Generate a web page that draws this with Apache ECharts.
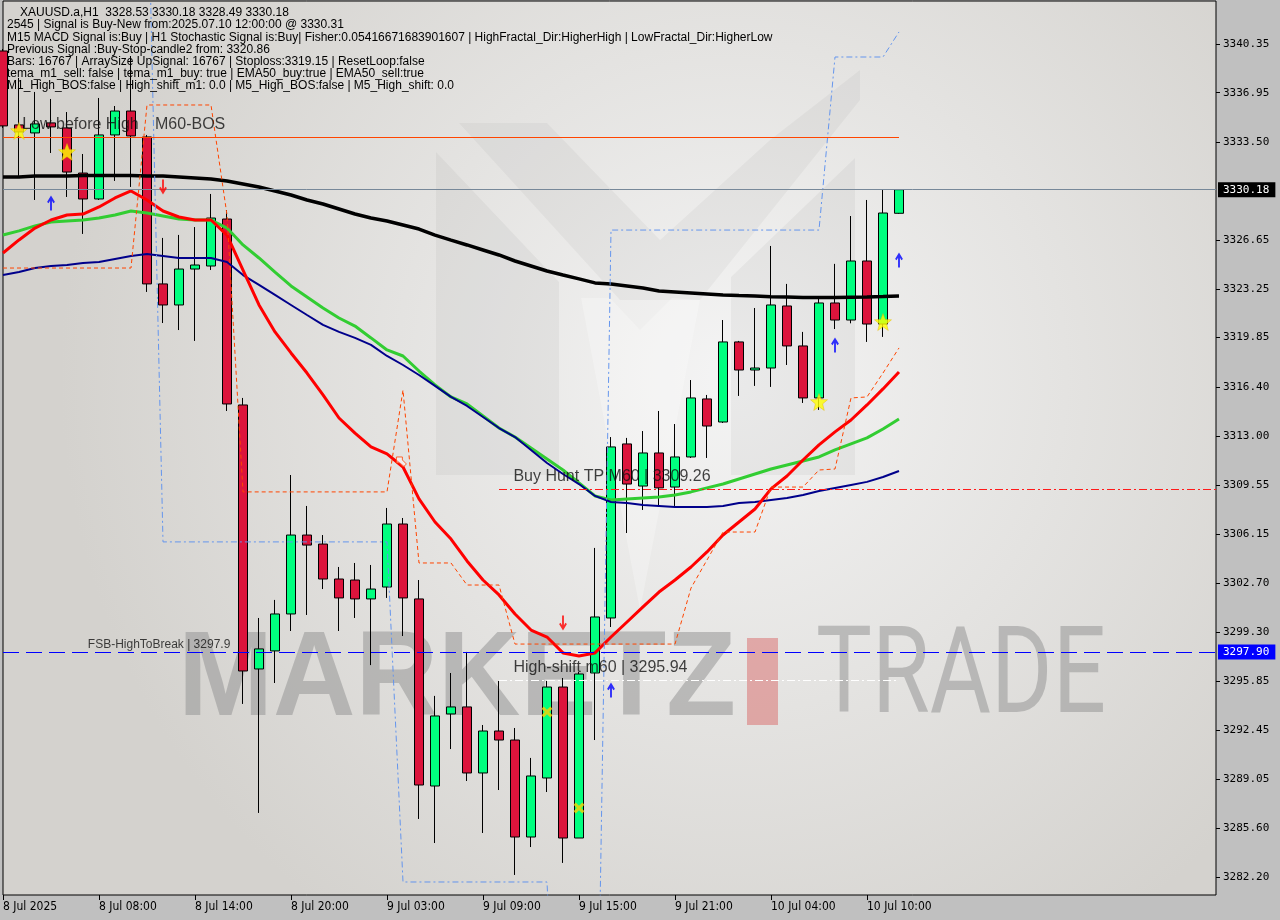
<!DOCTYPE html>
<html><head><meta charset="utf-8">
<script src="https://cdn.jsdelivr.net/npm/echarts@6/dist/echarts.min.js"></script>
<style>html,body{margin:0;padding:0;background:#c0c0c0}#c{width:1280px;height:920px}</style>
</head><body><div id="c"></div>
<script>
// ---------- DATA ----------
const xTickIdx = [0, 6, 12, 18, 24, 30, 36, 42, 48, 54];
const xTickLabels = ['8 Jul 2025','8 Jul 08:00','8 Jul 14:00','8 Jul 20:00','9 Jul 03:00','9 Jul 09:00','9 Jul 15:00','9 Jul 21:00','10 Jul 04:00','10 Jul 10:00'];
const yTickLabels = [3340.35,3336.95,3333.50,3326.65,3323.25,3319.85,3316.40,3313.00,3309.55,3306.15,3302.70,3299.30,3295.85,3292.45,3289.05,3285.60,3282.20];

const opens  = [3339.86,3334.70,3334.14,3334.84,3334.49,3331.34,3329.53,3334.00,3335.67,3333.86,3323.60,3322.13,3324.64,3324.85,3328.13,3315.15,3296.72,3297.98,3300.56,3306.07,3305.44,3303.00,3302.93,3301.61,3302.44,3306.84,3301.61,3288.55,3293.58,3294.07,3289.46,3292.39,3291.76,3284.99,3289.11,3295.46,3284.92,3296.44,3300.28,3312.43,3309.49,3311.80,3309.42,3311.52,3315.57,3313.96,3319.55,3317.59,3317.73,3322.06,3319.27,3315.64,3322.27,3321.08,3325.20,3320.80,3328.53];
const closes = [3334.63,3334.21,3334.77,3334.56,3331.41,3329.53,3334.00,3335.67,3333.93,3323.60,3322.13,3324.64,3324.92,3328.20,3315.22,3296.58,3298.12,3300.56,3306.07,3305.37,3303.00,3301.68,3301.61,3302.30,3306.84,3301.68,3288.62,3293.44,3294.07,3289.46,3292.39,3291.76,3284.99,3289.25,3295.46,3284.92,3296.37,3300.35,3312.22,3309.63,3311.80,3309.36,3311.52,3315.64,3313.68,3319.55,3317.59,3317.73,3322.13,3319.27,3315.64,3322.27,3321.08,3325.20,3320.80,3328.55,3330.18];
const lows   = [3334.49,3331.14,3329.46,3332.74,3329.67,3327.09,3329.46,3330.79,3330.37,3323.04,3320.87,3320.38,3319.62,3324.57,3314.73,3294.28,3286.67,3295.74,3299.37,3300.49,3302.30,3299.37,3300.28,3296.99,3301.68,3299.02,3286.25,3284.57,3291.13,3288.90,3285.27,3288.27,3282.34,3284.29,3288.13,3283.18,3284.92,3291.76,3299.65,3306.21,3307.82,3308.10,3308.10,3311.45,3311.45,3313.89,3315.78,3316.48,3316.41,3317.94,3315.29,3314.80,3320.45,3320.85,3319.55,3319.90,3328.49];
const highs  = [3340.00,3337.98,3337.00,3336.51,3335.60,3332.67,3336.58,3336.02,3339.51,3334.00,3326.81,3327.02,3327.57,3329.88,3328.76,3315.64,3300.28,3301.54,3310.26,3308.10,3306.07,3303.84,3304.12,3303.98,3307.96,3307.26,3302.93,3294.84,3296.44,3297.91,3292.81,3295.88,3292.60,3290.51,3295.88,3296.09,3296.51,3305.17,3312.91,3312.85,3313.33,3314.73,3313.82,3316.89,3315.85,3321.08,3319.62,3321.92,3326.25,3323.60,3320.25,3322.62,3325.00,3328.34,3329.46,3330.16,3330.18];

const maBlack = [3331.07,3331.07,3331.14,3331.14,3331.14,3331.17,3331.17,3331.17,3331.17,3331.14,3331.14,3331.07,3331.00,3330.93,3330.79,3330.58,3330.37,3330.09,3329.81,3329.46,3329.18,3328.83,3328.48,3328.20,3327.99,3327.71,3327.43,3327.01,3326.66,3326.32,3325.97,3325.62,3325.20,3324.85,3324.50,3324.22,3323.95,3323.67,3323.60,3323.46,3323.32,3323.11,3323.04,3322.97,3322.90,3322.83,3322.79,3322.76,3322.71,3322.69,3322.65,3322.65,3322.65,3322.67,3322.69,3322.72,3322.76];
const maGreen = [3327.01,3327.30,3327.65,3327.92,3327.99,3328.06,3328.20,3328.41,3328.69,3328.55,3328.34,3328.13,3328.06,3328.06,3327.50,3326.32,3325.41,3324.43,3323.46,3322.69,3321.92,3321.22,3320.66,3319.83,3318.99,3318.57,3317.52,3316.55,3315.71,3315.22,3314.38,3313.54,3312.91,3312.15,3311.38,3310.61,3309.70,3308.80,3308.52,3308.59,3308.66,3308.73,3308.87,3309.08,3309.36,3309.63,3309.98,3310.33,3310.68,3310.96,3311.24,3311.52,3312.01,3312.43,3312.85,3313.47,3314.17];
const maNavy = [3324.22,3324.43,3324.71,3324.85,3324.92,3325.06,3325.13,3325.34,3325.55,3325.69,3325.55,3325.41,3325.41,3325.41,3325.13,3324.22,3323.53,3322.83,3322.13,3321.43,3320.74,3320.25,3319.83,3319.34,3318.57,3317.94,3317.24,3316.48,3315.71,3315.08,3314.31,3313.54,3312.91,3312.01,3311.10,3310.33,3309.63,3308.80,3308.38,3308.31,3308.17,3308.10,3308.03,3308.03,3308.03,3308.10,3308.31,3308.38,3308.52,3308.66,3308.87,3309.15,3309.36,3309.57,3309.78,3310.12,3310.54];
const maRed = [3325.76,3326.67,3327.50,3328.06,3328.41,3328.48,3328.97,3329.60,3330.09,3329.46,3328.69,3328.27,3328.06,3328.06,3327.01,3324.57,3322.13,3320.25,3318.78,3317.38,3315.85,3314.24,3313.19,3312.22,3311.73,3310.82,3308.59,3306.98,3305.79,3304.26,3302.93,3301.89,3300.56,3299.44,3298.95,3297.84,3297.63,3297.84,3298.95,3300.00,3301.05,3302.09,3302.93,3303.84,3304.89,3306.07,3306.98,3307.89,3309.29,3310.19,3311.31,3312.36,3313.27,3314.10,3315.15,3316.27,3317.45];
const fractalOrange = [3324.71,3324.71,3324.71,3324.71,3324.71,3324.71,3324.71,3324.71,3324.71,3336.09,3336.09,3336.09,3336.09,3336.09,3328.41,3309.08,3309.08,3309.08,3309.08,3309.08,3309.08,3309.08,3309.08,3309.08,3309.08,3316.19,3304.12,3304.12,3304.12,3302.58,3302.58,3302.58,3298.46,3298.46,3298.46,3298.46,3298.46,3298.46,3298.46,3298.46,3298.46,3298.46,3298.46,3302.37,3304.33,3306.28,3306.28,3306.28,3309.42,3309.42,3309.42,3310.61,3310.68,3315.64,3315.71,3317.38,3319.13];
const fractalBlue = [null,null,null,null,null,null,null,null,null,3354.59,3305.59,3305.59,3305.59,3305.59,3305.59,3305.59,3305.59,3305.59,3305.59,3305.59,3305.59,3305.59,3305.59,3305.59,3305.59,3281.85,3281.85,3281.85,3281.85,3281.85,3281.85,3281.85,3281.85,3281.85,3281.85,3258.26,3258.26,3258.26,3327.36,3327.36,3327.36,3327.36,3327.36,3327.36,3327.36,3327.36,3327.36,3327.36,3327.36,3327.36,3327.36,3327.36,3339.44,3339.44,3339.44,3339.44,3341.19];

const starMarks = [[1, 3334.28], [4, 3332.81], [51, 3315.36], [55, 3320.94]];
const crossMarks = [[34, 3293.72], [36, 3287.02]];
const upArrows = [[3, 3329.25], [38, 3295.25], [52, 3319.34], [56, 3325.27]];
const downArrows = [[10, 3330.37], [35, 3299.93]];
const hollowArrows = [[24.9, 3311.17]];

const bidPrice = 3330.18;
const fsbLevel = 3297.90;
const bosLevel = 3333.86;
const buyHuntTP = 3309.26;
const highShift = 3295.94;
const annotations = [
  [1.2, 3334.70, 'Low before High', 16],
  [9.5, 3334.70, 'M60-BOS', 16],
  [31.9, 3310.12, 'Buy Hunt TP M60 | 3309.26', 16],
  [31.9, 3296.79, 'High-shift m60 | 3295.94', 16],
  [5.3, 3298.40, 'FSB-HighToBreak | 3297.9', 12]
];
const headerLines = [
  'XAUUSD.a,H1  3328.53 3330.18 3328.49 3330.18',
  '2545 | Signal is Buy-New from:2025.07.10 12:00:00 @ 3330.31',
  'M15 MACD Signal is:Buy | H1 Stochastic Signal is:Buy| Fisher:0.05416671683901607 | HighFractal_Dir:HigherHigh | LowFractal_Dir:HigherLow',
  'Previous Signal :Buy-Stop-candle2 from: 3320.86',
  'Bars: 16767 | ArraySize UpSignal: 16767 | Stoploss:3319.15 | ResetLoop:false',
  'tema_m1_sell: false | tema_m1_buy: true | EMA50_buy:true | EMA50_sell:true',
  'M1_High_BOS:false | High_shift_m1: 0.0 | M5_High_BOS:false | M5_High_shift: 0.0'
];

// ---------- LAYOUT ----------
const G = {left: 3, top: 1, right: 64, bottom: 25};
const plotW = 1280 - G.left - G.right, plotH = 920 - G.top - G.bottom;
const barPx = 16;
const xMin = 0, xMax = plotW / barPx;
const pxPerPrice = 14.325;
const yMax = 3343.35, yMin = yMax - plotH / pxPerPrice;

const mctx = document.createElement('canvas').getContext('2d');
function fitScale(text, font, target) { mctx.font = font; return target / mctx.measureText(text).width; }

const STAR = 'path://M12,1 L14.9,8.3 L23,8.6 L16.7,13.6 L18.8,21.5 L12,17 L5.2,21.5 L7.3,13.6 L1,8.6 L9.1,8.3 Z';
const CROSS = 'path://M0,2 L2,0 L5,3 L8,0 L10,2 L7,5 L10,8 L8,10 L5,7 L2,10 L0,8 L3,5 Z';
const UP = 'path://M5,0 L10,6 L8,7.2 L6.2,5 L6.2,14 L3.8,14 L3.8,5 L2,7.2 L0,6 Z';
const DOWN = 'path://M5,14 L10,8 L8,6.8 L6.2,9 L6.2,0 L3.8,0 L3.8,9 L2,6.8 L0,8 Z';
const DIAG = 'path://M0,0 L6,0 L6,3 L10,7 L7,10 L3,6 L0,6 Z';

const candleData = opens.map((o, i) => [i, o, closes[i], lows[i], highs[i]]);
const idx = a => a.map((v, i) => [i, v]);

const mFont = 'bold 121px "Liberation Sans", Arial, sans-serif';
const tFont = '121px Roboto, "Liberation Sans", sans-serif';

const graphics = [
  {type: 'rect', z: -10, silent: true, shape: {x: G.left, y: G.top, width: plotW, height: plotH},
   style: {fill: {type: 'radial', x: 0.6, y: 0.42, r: 0.75, colorStops: [{offset: 0, color: '#f4f4f4'}, {offset: 1, color: '#d4d2ce'}]}}},
  // logo (faint)
  {type: 'polygon', z: -9, silent: true, shape: {points: [[436,152],[559,282],[559,475],[436,475]]}, style: {fill: 'rgba(0,0,0,0.04)'}},
  {type: 'polygon', z: -9, silent: true, shape: {points: [[731,277],[855,158],[855,475],[731,475]]}, style: {fill: 'rgba(0,0,0,0.04)'}},
  {type: 'polygon', z: -9, silent: true, shape: {points: [[459,123],[547,123],[660,240],[770,140],[860,70],[860,100],[700,300],[620,300]]}, style: {fill: 'rgba(0,0,0,0.035)'}},
  {type: 'polygon', z: -9, silent: true, shape: {points: [[581,298],[610,298],[640,330],[672,298],[700,300],[640,610]]}, style: {fill: 'rgba(255,255,255,0.25)'}},
  // watermark
  {type: 'text', z: -8, silent: true, x: 178, y: 682, scaleX: fitScale('MARKETZ', mFont, 558),
   style: {text: 'MARKETZ', font: mFont, fill: 'rgba(150,150,150,0.55)', verticalAlign: 'middle', align: 'left'}},
  {type: 'rect', z: -8, silent: true, shape: {x: 747, y: 638, width: 31, height: 87}, style: {fill: 'rgba(215,90,90,0.45)'}},
  {type: 'text', z: -8, silent: true, x: 816, y: 682, scaleX: fitScale('TRADE', tFont, 290),
   style: {text: 'TRADE', font: tFont, fill: 'rgba(150,150,150,0.55)', verticalAlign: 'middle', align: 'left'}}
];
headerLines.forEach((t, i) => {
  graphics.push({type: 'text', z: 20, silent: true, x: i === 0 ? 20 : 7, y: 13 + i * 12.1,
    style: {text: t, font: '12px "Liberation Sans", Arial, sans-serif', fill: '#000', verticalAlign: 'middle'}});
});

const lineBase = {type: 'line', showSymbol: false, symbol: 'none', z: 4, silent: true, clip: true, connectNulls: false};

const chart = echarts.init(document.getElementById('c'), null, {renderer: 'canvas'});
chart.setOption({
  animation: false,
  backgroundColor: '#c0c0c0',
  graphic: graphics,
  grid: {left: G.left, top: G.top, right: G.right, bottom: G.bottom, show: true, borderColor: '#000', borderWidth: 1, backgroundColor: 'transparent'},
  xAxis: {
    type: 'value', min: xMin, max: xMax, position: 'bottom',
    axisLine: {show: false, onZero: false}, splitLine: {show: false},
    axisTick: {show: true, customValues: xTickIdx, length: 5, lineStyle: {color: '#000'}},
    axisLabel: {show: true, customValues: xTickIdx, formatter: v => xTickLabels[xTickIdx.indexOf(Math.round(v))] || '',
      align: 'left', margin: 6, color: '#000', fontSize: 12, fontFamily: '"Liberation Sans Narrow","DejaVu Sans Condensed","Liberation Sans",sans-serif'}
  },
  yAxis: {
    type: 'value', min: yMin, max: yMax, position: 'right', scale: true,
    axisLine: {show: false, onZero: false}, splitLine: {show: false},
    axisTick: {show: true, customValues: yTickLabels, length: 4, lineStyle: {color: '#000'}},
    axisLabel: {show: true, customValues: yTickLabels, formatter: v => v.toFixed(2), margin: 7, color: '#000',
      fontSize: 11, fontFamily: '"DejaVu Sans Mono","Liberation Mono",monospace'}
  },
  series: [
    {
      type: 'candlestick', name: 'XAUUSD', data: candleData, encode: {x: 0, y: [1, 2, 3, 4]},
      barWidth: 9, z: 3, silent: true, clip: true,
      itemStyle: {color: '#00FF7F', color0: '#DC143C', borderColor: '#000', borderColor0: '#000', borderWidth: 1},
      markLine: {
        symbol: 'none', silent: true, animation: false,
        data: [
          {yAxis: bidPrice, lineStyle: {color: '#778899', width: 1, type: 'solid'},
           label: {show: true, position: 'end', distance: 2, formatter: bidPrice.toFixed(2), backgroundColor: '#000', color: '#fff', padding: [2, 6, 2, 5], fontSize: 11, fontFamily: '"DejaVu Sans Mono",monospace'}},
          {yAxis: fsbLevel, lineStyle: {color: '#0000ff', width: 1, type: [16, 7]},
           label: {show: true, position: 'end', distance: 2, formatter: fsbLevel.toFixed(2), backgroundColor: '#0000ff', color: '#fff', padding: [2, 6, 2, 5], fontSize: 11, fontFamily: '"DejaVu Sans Mono",monospace'}},
          [{coord: [xMin, bosLevel], lineStyle: {color: '#ff4500', width: 1, type: 'solid'}, label: {show: false}}, {coord: [56, bosLevel]}],
          [{coord: [31, buyHuntTP], lineStyle: {color: '#ff1a1a', width: 1, type: [8, 3, 2, 3]}, label: {show: false}}, {coord: [xMax, buyHuntTP]}],
          [{coord: [31, highShift], lineStyle: {color: '#ffffff', width: 1, type: [8, 3, 2, 3]}, label: {show: false}}, {coord: [56, highShift]}]
        ]
      }
    },
    Object.assign({}, lineBase, {name: 'MA200', data: idx(maBlack), lineStyle: {color: '#000', width: 3.5}}),
    Object.assign({}, lineBase, {name: 'MAgreen', data: idx(maGreen), lineStyle: {color: '#32CD32', width: 3}}),
    Object.assign({}, lineBase, {name: 'MAnavy', data: idx(maNavy), lineStyle: {color: '#00008B', width: 2}}),
    Object.assign({}, lineBase, {name: 'MAred', data: idx(maRed), lineStyle: {color: '#FF0000', width: 3}}),
    Object.assign({}, lineBase, {name: 'FractalLow', data: idx(fractalOrange), lineStyle: {color: '#FF4500', width: 1, type: [4, 3]}}),
    Object.assign({}, lineBase, {name: 'FractalHigh', data: idx(fractalBlue), lineStyle: {color: '#6495ED', width: 1, type: [6, 3, 2, 3]}}),
    {type: 'scatter', z: 6, silent: true, data: starMarks, symbol: STAR, symbolSize: 17, itemStyle: {color: '#FFFF00', borderColor: '#e0b000', borderWidth: 0.5}},
    {type: 'scatter', z: 6, silent: true, data: crossMarks, symbol: CROSS, symbolSize: 11, itemStyle: {color: '#FFD000'}},
    {type: 'scatter', z: 6, silent: true, data: upArrows, symbol: UP, symbolSize: [11, 15], symbolKeepAspect: true, itemStyle: {color: '#0000FF'}},
    {type: 'scatter', z: 6, silent: true, data: downArrows, symbol: DOWN, symbolSize: [11, 15], symbolKeepAspect: true, itemStyle: {color: '#FF0000'}},
    {type: 'scatter', z: 6, silent: true, data: hollowArrows, symbol: DIAG, symbolSize: 10, itemStyle: {color: 'rgba(255,255,255,0.6)', borderColor: '#ff4500', borderWidth: 1}},
    {type: 'scatter', z: 7, silent: true, symbolSize: 0, data: annotations.map(a => ({value: [a[0], a[1]], label: {fontSize: a[3]}, name: a[2]})),
     label: {show: true, position: 'right', distance: 0, formatter: p => p.name, color: '#111', fontFamily: '"Liberation Sans", Arial, sans-serif'}}
  ]
});
</script></body></html>
